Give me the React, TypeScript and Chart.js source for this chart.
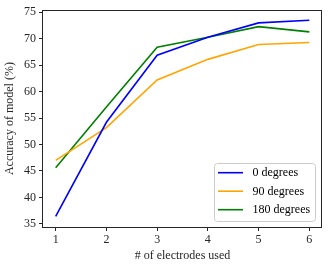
import React, { useEffect, useRef } from "react";
import { Chart, registerables } from "chart.js";

Chart.register(...registerables);

const electrodes = [1, 2, 3, 4, 5, 6];
const deg0 = [36.4, 54.2, 66.9, 70.3, 73.0, 73.5];
const deg90 = [47.0, 53.2, 62.2, 66.1, 68.9, 69.3];
const deg180 = [45.6, 57.1, 68.4, 70.3, 72.3, 71.3];
const seriesLabels = ["0 degrees", "90 degrees", "180 degrees"];
const seriesColors = ["#0000ff", "#ffa500", "#008000"];
const yTicks = [35, 40, 45, 50, 55, 60, 65, 70, 75];
const xTitle = "# of electrodes used";
const yTitle = "Accuracy of model (%)";

const FONT = "'Liberation Serif', 'DejaVu Serif', serif";

const framePlugin = {
  id: "frame",
  afterDraw(chart: any) {
    const { ctx, chartArea } = chart;
    const { left, top, right, bottom } = chartArea;
    ctx.save();
    // axes box
    ctx.strokeStyle = "#262626";
    ctx.lineWidth = 1;
    ctx.strokeRect(Math.round(left) - 0.5, Math.round(top) + 0.5, Math.round(right - left), Math.round(bottom - top));
    // legend
    const bx = 214.5, by = 163.5, bw = 101, bh = 58, r = 3;
    ctx.beginPath();
    ctx.moveTo(bx + r, by);
    ctx.lineTo(bx + bw - r, by);
    ctx.quadraticCurveTo(bx + bw, by, bx + bw, by + r);
    ctx.lineTo(bx + bw, by + bh - r);
    ctx.quadraticCurveTo(bx + bw, by + bh, bx + bw - r, by + bh);
    ctx.lineTo(bx + r, by + bh);
    ctx.quadraticCurveTo(bx, by + bh, bx, by + bh - r);
    ctx.lineTo(bx, by + r);
    ctx.quadraticCurveTo(bx, by, bx + r, by);
    ctx.closePath();
    ctx.fillStyle = "rgba(255,255,255,0.8)";
    ctx.fill();
    ctx.strokeStyle = "#cccccc";
    ctx.stroke();
    ctx.font = `12px ${FONT}`;
    ctx.textBaseline = "middle";
    ctx.textAlign = "left";
    chart.data.datasets.forEach((ds: any, i: number) => {
      const y = 172.7 + i * 18.5;
      ctx.strokeStyle = ds.borderColor;
      ctx.lineWidth = 1.6;
      ctx.beginPath();
      ctx.moveTo(218, y);
      ctx.lineTo(243, y);
      ctx.stroke();
      ctx.fillStyle = "#000000";
      ctx.fillText(ds.label, 252.5, y + 0.5);
    });
    ctx.restore();
  },
};

export default function App() {
  const ref = useRef<HTMLCanvasElement | null>(null);
  useEffect(() => {
    document.body.style.margin = "0";
    const canvas = ref.current!;
    const series = [deg0, deg90, deg180];
    const chart = new Chart(canvas, {
      type: "line",
      data: {
        datasets: series.map((vals, i) => ({
          label: seriesLabels[i],
          data: electrodes.map((x, j) => ({ x, y: vals[j] })),
          borderColor: seriesColors[i],
          backgroundColor: seriesColors[i],
          borderWidth: 1.6,
          pointRadius: 0,
          tension: 0,
          fill: false,
        })),
      },
      options: {
        animation: false,
        responsive: false,
        devicePixelRatio: 1,
        layout: { padding: { top: 9, right: 6, left: 0, bottom: 0 } },
        plugins: { legend: { display: false }, tooltip: { enabled: false } },
        scales: {
          x: {
            type: "linear",
            min: 0.75,
            max: 6.25,
            afterFit: (s: any) => {
              s.height = 42;
            },
            afterBuildTicks: (s: any) => {
              s.ticks = electrodes.map((v) => ({ value: v }));
            },
            grid: { display: true, drawOnChartArea: false, drawTicks: true, tickLength: 4, color: "#262626" },
            border: { display: false },
            ticks: { color: "#262626", font: { family: FONT, size: 12 }, padding: 2, callback: (v: any) => String(v) },
            title: { display: true, text: xTitle, color: "#262626", font: { family: FONT, size: 12 }, padding: { top: 0, bottom: 6 } },
          },
          y: {
            type: "linear",
            min: 34.4,
            max: 75.4,
            afterFit: (s: any) => {
              s.width = 43;
            },
            afterBuildTicks: (s: any) => {
              s.ticks = yTicks.map((v) => ({ value: v }));
            },
            grid: { display: true, drawOnChartArea: false, drawTicks: true, tickLength: 4, color: "#262626" },
            border: { display: false },
            ticks: { color: "#262626", font: { family: FONT, size: 12 }, padding: 3, callback: (v: any) => String(v) },
            title: { display: true, text: yTitle, color: "#262626", font: { family: FONT, size: 12 }, padding: { top: 3, bottom: 0 } },
          },
        },
      },
      plugins: [framePlugin],
    });
    return () => chart.destroy();
  }, []);
  return (
    <div style={{ width: 328, height: 269 }}>
      <canvas ref={ref} width={328} height={269} style={{ width: 328, height: 269, display: "block" }} />
    </div>
  );
}
